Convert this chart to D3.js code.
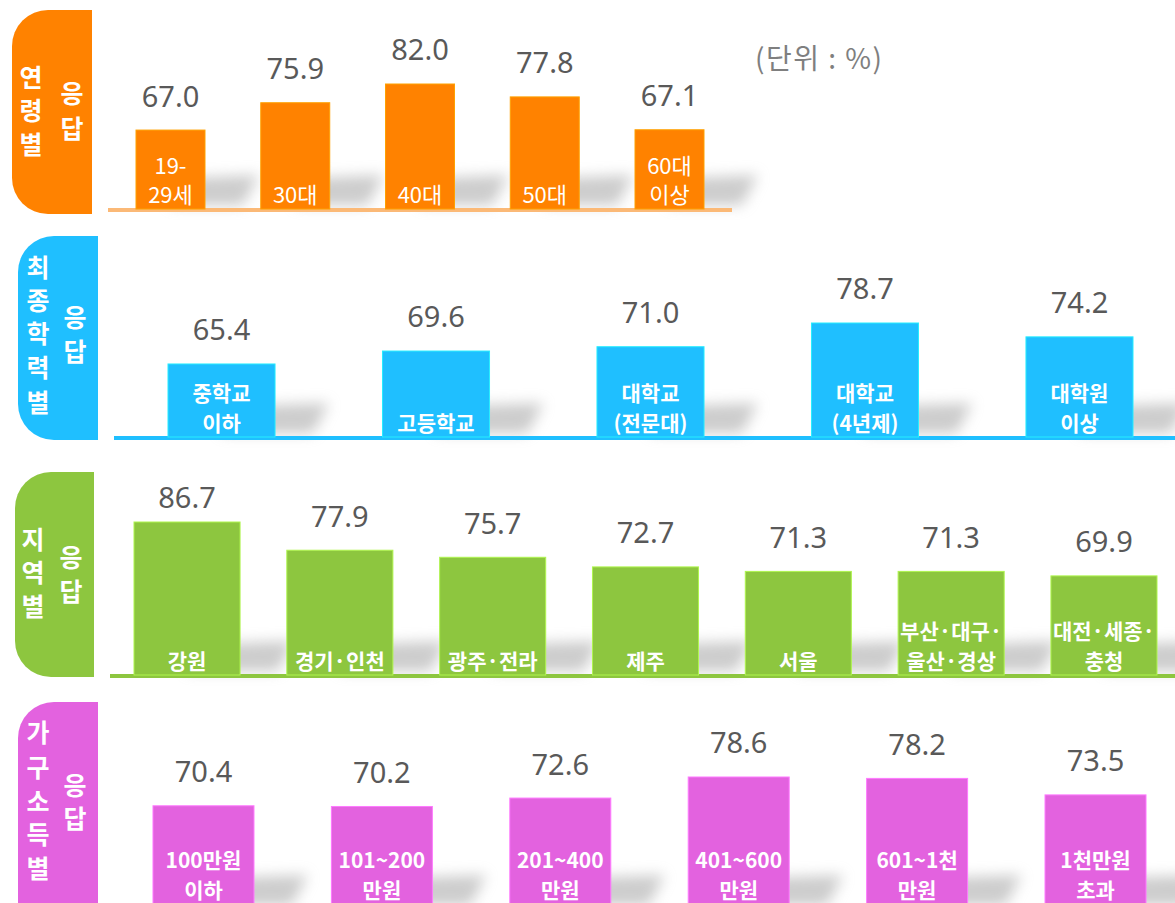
<!DOCTYPE html>
<html>
<head>
<meta charset="utf-8">
<script src="https://cdn.jsdelivr.net/npm/d3@7"></script>
<style>
  body { margin: 0; background: #fff; }
  svg { display: block; }
</style>
</head>
<body>
<script>
// data
var ageCats = ["19-\n29세", "30대", "40대", "50대", "60대\n이상"];
var ageVals = [67.0, 75.9, 82.0, 77.8, 67.1];

var eduCats = ["중학교\n이하", "고등학교", "대학교\n(전문대)", "대학교\n(4년제)", "대학원\n이상"];
var eduVals = [65.4, 69.6, 71.0, 78.7, 74.2];

var regionCats = ["강원", "경기·인천", "광주·전라", "제주", "서울", "부산·대구·\n울산·경상", "대전·세종·\n충청"];
var regionVals = [86.7, 77.9, 75.7, 72.7, 71.3, 71.3, 69.9];

var incomeCats = ["100만원\n이하", "101~200\n만원", "201~400\n만원", "401~600\n만원", "601~1천\n만원", "1천만원\n초과"];
var incomeVals = [70.4, 70.2, 72.6, 78.6, 78.2, 73.5];

var width = 1175, height = 903;
var font = "'Noto Sans CJK KR', 'Noto Sans', sans-serif";

var svg = d3.select("body").append("svg")
  .attr("width", width)
  .attr("height", height);

var defs = svg.append("defs");
defs.append("filter")
  .attr("id", "blur")
  .attr("filterUnits", "userSpaceOnUse")
  .attr("x", 0).attr("y", 0)
  .attr("width", width).attr("height", height + 40)
  .append("feGaussianBlur")
  .attr("stdDeviation", 7);

var panels = [
  {
    cats: ageCats, vals: ageVals, color: "#ff8200", lineColor: "#fbb977",
    box: [12, 10, 80, 204], left: ["연", "령", "별"], leftY: [78, 111, 145], leftX: 31,
    right: ["응", "답"], rightY: [94, 129], rightX: 72,
    x: [136, 704], pad: 0.447, dom: [41.3, 82], base: 209, top: 84,
    line: [108, 732], bold: false, labSize: 22, lineH: 29
  },
  {
    cats: eduCats, vals: eduVals, color: "#1fbfff", lineColor: "#1fbfff",
    box: [18, 236, 80, 204], left: ["최", "종", "학", "력", "별"], leftY: [268, 301, 334, 368, 403], leftX: 38,
    right: ["응", "답"], rightY: [318, 352], rightX: 75,
    x: [168, 1133], pad: 0.501, dom: [41.7, 78.7], base: 437, top: 323,
    line: [114, 1175], bold: true, labSize: 21, lineH: 30
  },
  {
    cats: regionCats, vals: regionVals, color: "#8dc63f", lineColor: "#8dc63f",
    box: [15, 472, 79, 205], left: ["지", "역", "별"], leftY: [540, 573, 607], leftX: 33,
    right: ["응", "답"], rightY: [558, 592], rightX: 71,
    x: [134, 1157], pad: 0.306, dom: [39.0, 86.7], base: 675, top: 522,
    line: [110, 1175], bold: true, labSize: 21, lineH: 30, labMin: 498
  },
  {
    cats: incomeCats, vals: incomeVals, color: "#e362df", lineColor: null,
    box: [18, 702, 80, 240], left: ["가", "구", "소", "득", "별"], leftY: [733, 768, 802, 835, 869], leftX: 38,
    right: ["응", "답"], rightY: [786, 819], rightX: 75,
    x: [153, 1146], pad: 0.434, dom: [41.0, 78.6], base: 909, top: 777,
    line: null, bold: true, labSize: 21, lineH: 30
  }
];

function leftRounded(x, y, w, h, r) {
  return "M" + (x + r) + "," + y +
    "H" + (x + w) + "V" + (y + h) + "H" + (x + r) +
    "A" + r + "," + r + " 0 0 1 " + x + "," + (y + h - r) +
    "V" + (y + r) +
    "A" + r + "," + r + " 0 0 1 " + (x + r) + "," + y + "Z";
}

panels.forEach(function (p) {
  var g = svg.append("g");

  // label box
  g.append("path")
    .attr("d", leftRounded(p.box[0], p.box[1], p.box[2], p.box[3], 36))
    .attr("fill", p.color);

  p.left.forEach(function (c, i) {
    g.append("text")
      .attr("x", p.leftX).attr("y", p.leftY[i])
      .attr("dy", "0.36em")
      .attr("text-anchor", "middle")
      .attr("font-family", font).attr("font-weight", "bold")
      .attr("font-size", 25).attr("fill", "#fff")
      .text(c);
  });
  p.right.forEach(function (c, i) {
    g.append("text")
      .attr("x", p.rightX).attr("y", p.rightY[i])
      .attr("dy", "0.36em")
      .attr("text-anchor", "middle")
      .attr("font-family", font).attr("font-weight", "bold")
      .attr("font-size", 25).attr("fill", "#fff")
      .text(c);
  });

  var xScale = d3.scaleBand()
    .domain(p.cats)
    .range(p.x)
    .paddingInner(p.pad)
    .paddingOuter(0);

  var yScale = d3.scaleLinear()
    .domain(p.dom)
    .range([p.base, p.top]);

  var bw = xScale.bandwidth();

  // soft shadows behind bars
  g.selectAll(".shadow")
    .data(p.cats)
    .enter()
    .append("path")
    .attr("class", "shadow")
    .attr("d", function (d) {
      var x0 = xScale(d) + bw * 0.5, x1 = xScale(d) + bw;
      var b = Math.min(p.base, height + 6) - 4;
      return "M" + x0 + "," + b + "L" + (x1 + 38) + "," + b +
        "L" + (x1 + 54) + "," + (b - 30) + "L" + x0 + "," + (b - 26) + "Z";
    })
    .attr("fill", "#9a9a9a")
    .attr("opacity", 0.5)
    .attr("filter", "url(#blur)");

  if (p.line) {
    g.append("line")
      .attr("x1", p.line[0]).attr("x2", p.line[1])
      .attr("y1", p.base + 1).attr("y2", p.base + 1)
      .attr("stroke", p.lineColor)
      .attr("stroke-width", 4);
  }

  g.selectAll(".bar")
    .data(p.vals)
    .enter()
    .append("rect")
    .attr("class", "bar")
    .attr("x", function (d, i) { return xScale(p.cats[i]); })
    .attr("y", function (d) { return yScale(d); })
    .attr("width", bw)
    .attr("height", function (d) { return p.base - yScale(d); })
    .attr("fill", p.color)
    .attr("stroke", d3.color(p.color).brighter(0.6))
    .attr("stroke-width", 1);

  // value labels
  g.selectAll(".val")
    .data(p.vals)
    .enter()
    .append("text")
    .attr("class", "val")
    .attr("x", function (d, i) { return xScale(p.cats[i]) + bw / 2; })
    .attr("y", function (d) {
      var y = yScale(d) - 34;
      if (p.labMin) y = Math.max(y, p.labMin);
      return y;
    })
    .attr("dy", "0.36em")
    .attr("text-anchor", "middle")
    .attr("font-family", "'Noto Sans', sans-serif")
    .attr("font-size", 29)
    .attr("fill", "#595959")
    .text(function (d) { return d.toFixed(1); });

  // category labels inside bars
  p.cats.forEach(function (c) {
    var lines = c.split("\n");
    var last = Math.min(p.base - 6, 898);
    var t = g.append("text")
      .attr("text-anchor", "middle")
      .attr("font-family", font)
      .attr("font-weight", p.bold ? "bold" : "normal")
      .attr("font-size", p.labSize)
      .attr("fill", "#fff");
    lines.forEach(function (l, i) {
      t.append("tspan")
        .attr("x", xScale(c) + bw / 2)
        .attr("y", last - (lines.length - 1 - i) * p.lineH)
        .text(l);
    });
  });
});

svg.append("text")
  .attr("x", 755)
  .attr("y", 69)
  .attr("font-family", font)
  .attr("font-size", 28)
  .attr("letter-spacing", 1.5)
  .attr("fill", "#7f7f7f")
  .text("(단위 : %)");
</script>
</body>
</html>
